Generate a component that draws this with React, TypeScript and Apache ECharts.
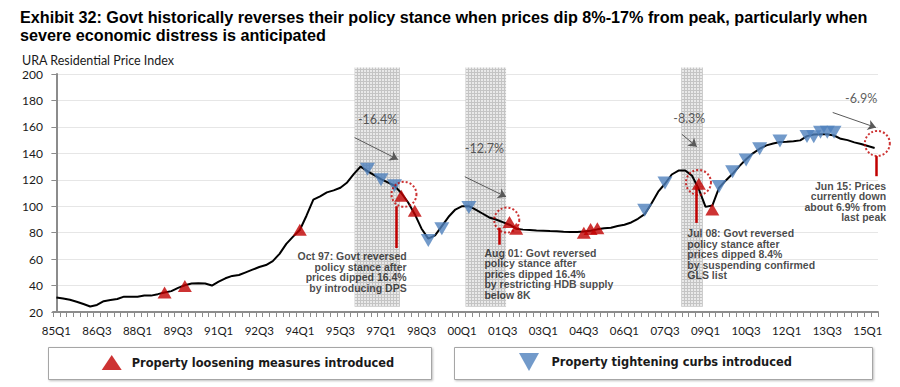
import React, { useEffect, useRef } from 'react';
import * as echarts from 'echarts';

const TITLE =
  'Exhibit 32: Govt historically reverses their policy stance when prices dip 8%-17% from peak, particularly when\nsevere economic distress is anticipated';
const Y_NAME = 'URA Residential Price Index';
const LOOSEN = 'Property loosening measures introduced';
const TIGHTEN = 'Property tightening curbs introduced';

// Quarter labels 85Q1 .. 15Q2
const quarters: string[] = [];
for (let y = 1985; y <= 2015; y++) {
  for (let q = 1; q <= 4; q++) {
    if (y === 2015 && q > 2) break;
    quarters.push(String(y % 100).padStart(2, '0') + 'Q' + q);
  }
}

// URA residential price index, one value per quarter (85Q1 .. 15Q2)
const prices = [
  31, 30.2, 29.2, 27.8, // 85
  26, 24.2, 25.3, 28.2, // 86
  29, 29.8, 31.6, 31.6, // 87
  31.6, 32.4, 32.4, 33.5, // 88
  34.8, 35.8, 38.2, 40.2, // 89
  41.5, 41.8, 41.5, 40, // 90
  43, 45.5, 47.3, 48, // 91
  50, 52, 54, 55.5, // 92
  58.5, 64, 71.5, 77, // 93
  82, 93, 105, 107.5, // 94
  110.5, 112, 114, 118, // 95
  124.5, 130, 126.5, 123.5, // 96
  120.5, 118, 115.5, 110, // 97
  103, 94, 83, 75.5, // 98
  78, 85, 92, 97.5, // 99
  100, 100, 97.5, 94.5, // 00
  91.5, 90, 88, 86, // 01
  83, 82.3, 82, 81.7, // 02
  81.5, 81.2, 81, 80.7, // 03
  80.5, 80.5, 80.8, 81.5, // 04
  82.5, 83.3, 83.7, 85, // 05
  86, 87.7, 90.5, 94, // 06
  102, 111, 117, 124, // 07
  127, 127, 123, 113, // 08
  99.5, 100.5, 114, 119.5, // 09
  124.5, 130.3, 135.5, 140, // 10
  143.5, 146, 147.5, 148.5, // 11
  148.8, 149.2, 149.8, 153, // 12
  154.2, 154.5, 154.5, 153.5, // 13
  151, 150, 148.3, 147, // 14
  145.5, 144, // 15
];

// Loosening measures (red up triangles): [quarter, index level]
const loosening: [string, number][] = [
  ['89Q1', 34.8], ['89Q4', 39.7], ['94Q1', 82.3], ['97Q4', 108], ['98Q2', 96.5],
  ['01Q4', 88], ['02Q1', 83], ['04Q3', 80], ['04Q4', 82.8], ['05Q1', 83.3],
  ['08Q4', 117], ['09Q2', 97.5],
];

// Tightening curbs (blue down triangles)
const tightening: [string, number][] = [
  ['96Q3', 128], ['97Q1', 120], ['97Q3', 115.5], ['98Q4', 74], ['99Q2', 83],
  ['00Q2', 99], ['06Q4', 97], ['07Q3', 117.5], ['09Q3', 115], ['10Q1', 126],
  ['10Q3', 135], ['11Q1', 143.5], ['11Q4', 149.3], ['12Q4', 152.8], ['13Q1', 152.5],
  ['13Q2', 156], ['13Q3', 156], ['13Q4', 156],
];

// Shaded policy-reversal windows, in quarter-index units: [from, to, top, bottom]
const bands: [number, number, number, number][] = [
  [44.1, 50.8, 205, 24],
  [60.5, 66.5, 205, 24],
  [92.4, 95.6, 205, 24],
];

// Dotted red circles (quarter-index, level)
const circles: [number, number][] = [
  [51.4, 109], [66.6, 89.5], [94.95, 118], [121.4, 147.5],
];

// Grey arrows: [x0, y0, x1, y1]
const arrows: [number, number, number, number][] = [
  [44.1, 151.9, 50.5, 135.4],
  [60.4, 122.3, 66.5, 107.1],
  [92.5, 154.4, 94.7, 145],
  [114.8, 170.9, 121.2, 159.5],
];

// Red leader lines: [x, yTop, yBottom]
const leaders: [number, number, number][] = [
  [50.3, 100, 68.4],
  [65.5, 83.8, 70.9],
  [94.6, 115.1, 87.4],
  [121.2, 137.9, 122.7],
];

// Drawdown labels: [text, x, y]
const pctNotes: [string, number, number][] = [
  ['-16.4%', 47.5, 165.8],
  ['-12.7%', 63.3, 143.5],
  ['-8.3%', 93.6, 166.3],
  ['-6.9%', 119.0, 181.5],
];

// Event notes: [text, x, y, align]
const eventNotes: [string, number, number, string][] = [
  ['Oct 97: Govt reversed\npolicy stance after\nprices dipped 16.4%\nby introducing DPS', 51.8, 66.0, 'right'],
  ['Aug 01: Govt reversed\npolicy stance after\nprices dipped 16.4%\nby restricting HDB supply\nbelow 8K', 63.3, 68.6, 'left'],
  ['Jul 08: Govt reversed\npolicy stance after\nprices dipped 8.4%\nby suspending confirmed\nGLS list', 93.3, 83.7, 'left'],
  ['Jun 15: Prices\ncurrently down\nabout 6.9% from\nlast peak', 122.7, 119.5, 'right'],
];

const UP_PATH = 'path://M5,0L10,9L0,9Z';
const DOWN_PATH = 'path://M0,0L10,0L5,9Z';
const UP_ICON = 'path://M5,0L10,7.5L0,7.5Z';
const DOWN_ICON = 'path://M0,0L10,0L5,9Z';
const RED = '#C00000';
const BLUE = '#4F81BD';
const AXIS_GREY = '#8c8c8c';

function makeBandPattern(): any {
  try {
    const c = document.createElement('canvas');
    c.width = 3;
    c.height = 3;
    const ctx = c.getContext('2d');
    if (!ctx) return '#dcdcdc';
    ctx.fillStyle = '#e9e9e9';
    ctx.fillRect(0, 0, 3, 3);
    ctx.fillStyle = '#c4c4c4';
    ctx.fillRect(0, 0, 3, 1);
    ctx.fillRect(0, 0, 1, 3);
    return { image: c, repeat: 'repeat' };
  } catch (e) {
    return '#dcdcdc';
  }
}

export default function App() {
  const ref = useRef<HTMLDivElement>(null);

  useEffect(() => {
    if (!ref.current) return;
    const chart = echarts.init(ref.current, undefined, { renderer: 'svg' });
    const bandFill = makeBandPattern();

    const legendText = {
      fontFamily: '"DejaVu Sans", sans-serif',
      fontWeight: 'bold',
      fontSize: 11.4,
      color: '#1a1a1a',
    };

    const option: any = {
      animation: false,
      backgroundColor: '#ffffff',
      title: [
        {
          text: TITLE,
          left: 20,
          top: 8,
          padding: 0,
          textStyle: {
            fontFamily: '"Liberation Sans", Arial, sans-serif',
            fontWeight: 'bold',
            fontSize: 16.2,
            lineHeight: 18,
            color: '#000',
          },
        },
        {
          text: Y_NAME,
          left: 22,
          top: 54.5,
          padding: 0,
          textStyle: {
            fontFamily: 'Lato, sans-serif',
            fontWeight: 'normal',
            fontSize: 12.5,
            lineHeight: 12.5,
            color: '#1a1a1a',
          },
        },
      ],
      grid: { left: 53, right: 22, top: 74, bottom: 75 },
      xAxis: [
        {
          type: 'category',
          data: quarters,
          boundaryGap: true,
          axisLine: { lineStyle: { color: AXIS_GREY, width: 2 } },
          axisTick: { show: true, interval: 0, length: 5, lineStyle: { color: AXIS_GREY, width: 1 } },
          axisLabel: {
            interval: 5,
            margin: 12,
            fontFamily: 'Lato, sans-serif',
            fontSize: 11.5,
            color: '#1a1a1a',
          },
          splitLine: { show: false },
        },
        { type: 'value', min: -0.5, max: 121.5, show: false },
      ],
      yAxis: {
        type: 'value',
        min: 20,
        max: 200,
        interval: 20,
        axisLine: { show: true, lineStyle: { color: AXIS_GREY, width: 2 } },
        axisTick: { show: true, length: 5, lineStyle: { color: AXIS_GREY, width: 1 } },
        axisLabel: { margin: 10, fontFamily: 'Lato, sans-serif', fontSize: 12, lineHeight: 12, color: '#1a1a1a' },
        splitLine: { lineStyle: { color: '#e6e6e6', width: 1 } },
      },
      legend: [
        {
          data: [{ name: LOOSEN, icon: UP_ICON }],
          left: 101.7,
          top: 355,
          padding: 0,
          itemWidth: 30,
          itemHeight: 15,
          symbolKeepAspect: true,
          selectedMode: false,
          textStyle: legendText,
        },
        {
          data: [{ name: TIGHTEN, icon: DOWN_ICON }],
          left: 519,
          top: 353,
          padding: 0,
          itemWidth: 35,
          itemHeight: 18,
          symbolKeepAspect: true,
          selectedMode: false,
          textStyle: legendText,
        },
      ],
      graphic: [
        {
          type: 'rect',
          z: -1,
          shape: { x: 48.5, y: 347.5, width: 383, height: 32 },
          style: { fill: '#fff', stroke: '#a6a6a6', lineWidth: 1, shadowBlur: 2, shadowOffsetX: 1, shadowOffsetY: 1, shadowColor: 'rgba(0,0,0,0.25)' },
        },
        {
          type: 'rect',
          z: -1,
          shape: { x: 454.5, y: 347.5, width: 418, height: 32 },
          style: { fill: '#fff', stroke: '#a6a6a6', lineWidth: 1, shadowBlur: 2, shadowOffsetX: 1, shadowOffsetY: 1, shadowColor: 'rgba(0,0,0,0.25)' },
        },
      ],
      series: [
        {
          name: 'bands',
          type: 'custom',
          xAxisIndex: 1,
          data: bands,
          z: 1,
          silent: true,
          clip: false,
          renderItem: (params: any, api: any) => {
            const p0 = api.coord([api.value(0), api.value(2)]);
            const p1 = api.coord([api.value(1), api.value(3)]);
            return {
              type: 'rect',
              shape: { x: p0[0], y: p0[1], width: p1[0] - p0[0], height: p1[1] - p0[1] },
              style: { fill: bandFill },
            };
          },
        },
        {
          name: 'URA PPI',
          type: 'line',
          data: prices,
          symbol: 'none',
          lineStyle: { color: '#000', width: 2 },
          z: 3,
          silent: true,
        },
        {
          name: LOOSEN,
          type: 'scatter',
          data: loosening,
          symbol: UP_PATH,
          symbolSize: [14, 12],
          itemStyle: { color: RED },
          z: 5,
          silent: true,
        },
        {
          name: TIGHTEN,
          type: 'scatter',
          data: tightening,
          symbol: DOWN_PATH,
          symbolSize: [15, 13],
          itemStyle: { color: BLUE },
          z: 5,
          silent: true,
        },
        {
          name: 'circles',
          type: 'scatter',
          xAxisIndex: 1,
          data: circles,
          symbol: 'circle',
          symbolSize: 25,
          itemStyle: { color: 'rgba(0,0,0,0)', borderColor: RED, borderWidth: 2, borderType: 'dotted' },
          z: 6,
          clip: false,
          silent: true,
        },
        {
          name: 'arrows',
          type: 'line',
          xAxisIndex: 1,
          data: [],
          z: 4,
          silent: true,
          markLine: {
            silent: true,
            symbol: ['none', 'arrow'],
            symbolSize: 8,
            label: { show: false },
            lineStyle: { color: '#595959', width: 1, type: 'solid' },
            data: arrows.map((a) => [{ coord: [a[0], a[1]] }, { coord: [a[2], a[3]] }]),
          },
        },
        {
          name: 'leaders',
          type: 'line',
          xAxisIndex: 1,
          data: [],
          z: 4,
          silent: true,
          markLine: {
            silent: true,
            symbol: ['none', 'none'],
            label: { show: false },
            lineStyle: { color: RED, width: 2.5, type: 'solid' },
            data: leaders.map((l) => [{ coord: [l[0], l[1]] }, { coord: [l[0], l[2]] }]),
          },
        },
        {
          name: 'pct',
          type: 'scatter',
          xAxisIndex: 1,
          symbolSize: 0,
          clip: false,
          silent: true,
          z: 7,
          itemStyle: { color: 'rgba(0,0,0,0)' },
          label: {
            show: true,
            position: 'inside',
            align: 'center',
            verticalAlign: 'middle',
            fontFamily: 'Lato, sans-serif',
            fontSize: 12.5,
            color: '#333',
          },
          data: pctNotes.map((n) => ({ value: [n[1], n[2]], label: { formatter: n[0] } })),
        },
        {
          name: 'events',
          type: 'scatter',
          xAxisIndex: 1,
          symbolSize: 0,
          clip: false,
          silent: true,
          z: 7,
          itemStyle: { color: 'rgba(0,0,0,0)' },
          label: {
            show: true,
            position: 'inside',
            verticalAlign: 'top',
            fontFamily: '"Liberation Sans", Arial, sans-serif',
            fontWeight: 'bold',
            fontSize: 10.5,
            lineHeight: 10.5,
            color: '#1a1a1a',
          },
          data: eventNotes.map((n) => ({
            value: [n[1], n[2]],
            label: { formatter: n[0], align: n[3] },
          })),
        },
      ],
    };

    chart.setOption(option);
    return () => chart.dispose();
  }, []);

  return (
    <div
      ref={ref}
      style={{ position: 'fixed', left: 0, top: 0, width: 900, height: 387, background: '#fff' }}
    />
  );
}
